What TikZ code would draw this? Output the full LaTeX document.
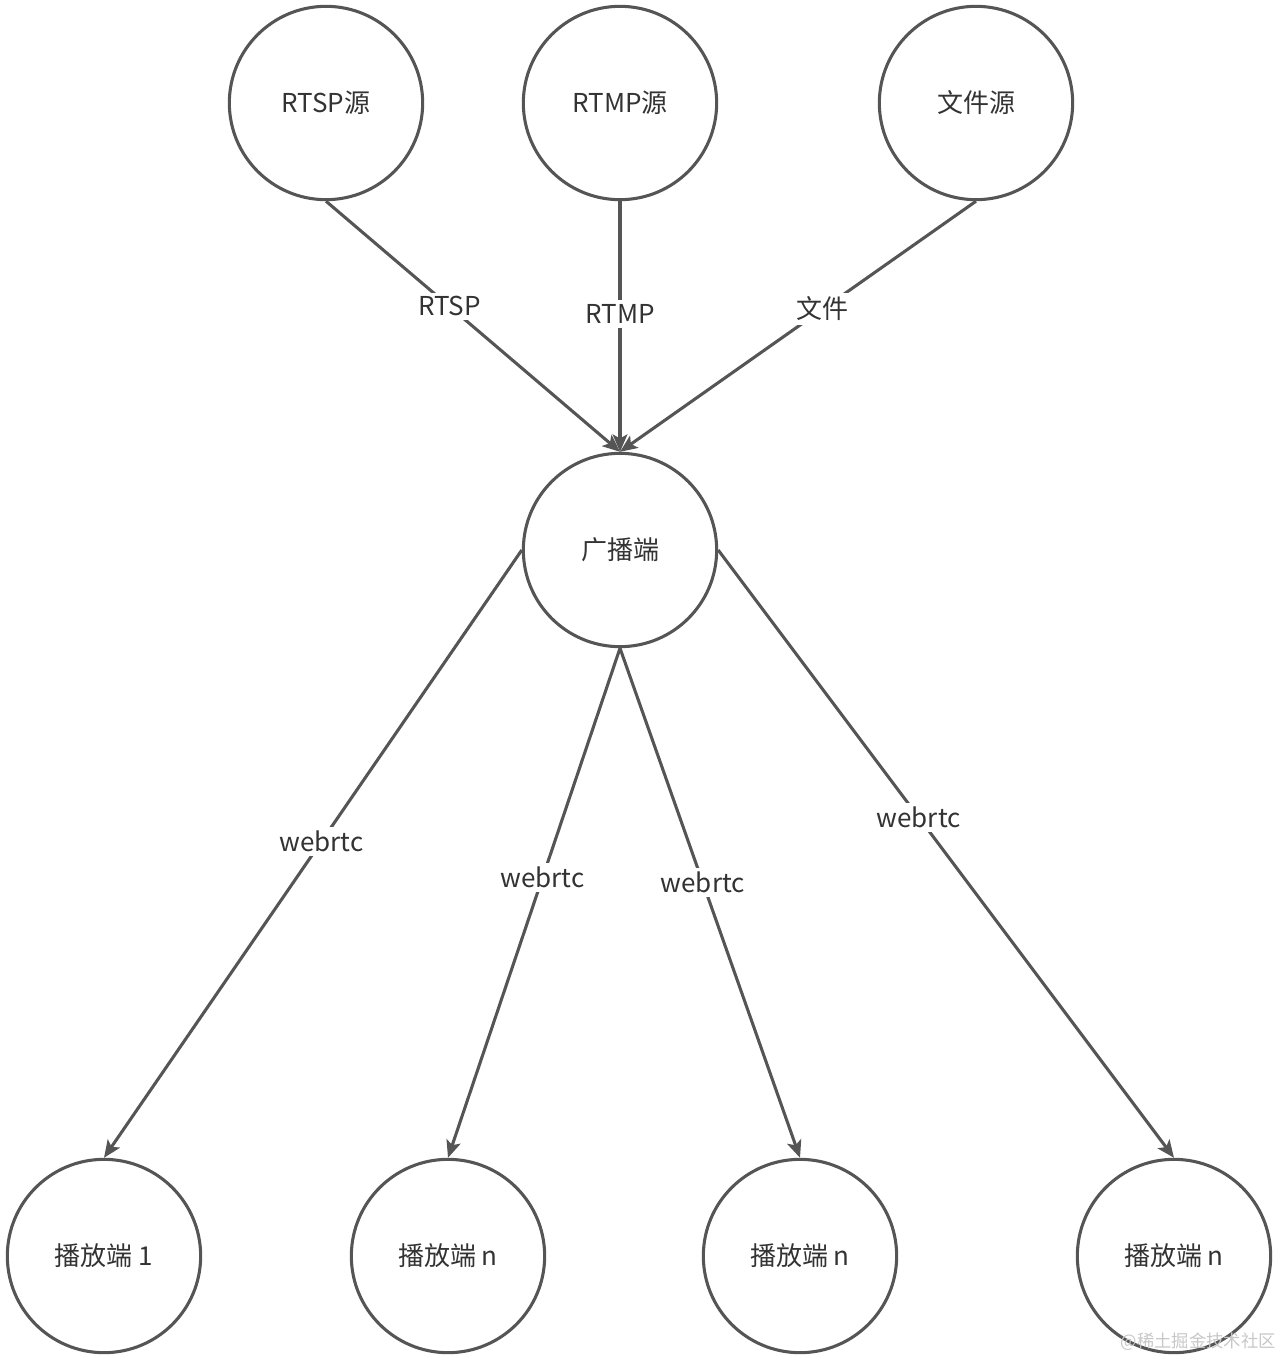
\documentclass[tikz,border=0pt]{standalone}
\usepackage{fontspec}
\setmainfont{Noto Sans CJK SC}
\usetikzlibrary{arrows.meta}
\definecolor{ln}{HTML}{555555}
\definecolor{tx}{HTML}{333333}
\tikzset{
  circ/.style={circle, draw=ln, line width=2.3pt, minimum size=145pt, inner sep=0pt, text=tx, font=\fontsize{19.5}{22}\selectfont},
  conn/.style={draw=ln, line width=2.3pt, -{Stealth[length=13pt,width=11pt,inset=3pt]}},
  lbl/.style={fill=white, text=tx, inner sep=3pt, font=\fontsize{19.5}{22}\selectfont}
}
\begin{document}
\begin{tikzpicture}[x=0.75pt,y=-0.75pt]
\useasboundingbox (0,0) rectangle (1282,1360);
\node[circ] (rtsp) at (326,103) {RTSP源};
\node[circ] (rtmp) at (620,103) {RTMP源};
\node[circ] (file) at (976,103) {文件源};
\node[circ] (bc) at (620,550) {广播端};
\node[circ] (p1) at (104,1256) {播放端 1};
\node[circ] (p2) at (448,1256) {播放端 n};
\node[circ] (p3) at (800,1256) {播放端 n};
\node[circ] (p4) at (1174,1256) {播放端 n};
\draw[conn] (rtsp.south) -- node[lbl,pos=0.42] {RTSP} (bc.north);
\draw[conn] (rtmp.south) -- node[lbl,pos=0.45] {RTMP} (bc.north);
\draw[conn] (file.south) -- node[lbl,pos=0.43] {文件} (bc.north);
\draw[conn] (bc.west) -- node[lbl,pos=0.48] {webrtc} (p1.north);
\draw[conn] (bc.south) -- node[lbl,pos=0.45] {webrtc} (p2.north);
\draw[conn] (bc.south) -- node[lbl,pos=0.46] {webrtc} (p3.north);
\draw[conn] (bc.east) -- node[lbl,pos=0.44] {webrtc} (p4.north);
\node[text=black!22, font=\fontsize{13}{15}\selectfont, anchor=east, inner sep=0pt] (wm) at (1276,1342) {@稀土掘金技术社区};
\end{tikzpicture}
\end{document}
